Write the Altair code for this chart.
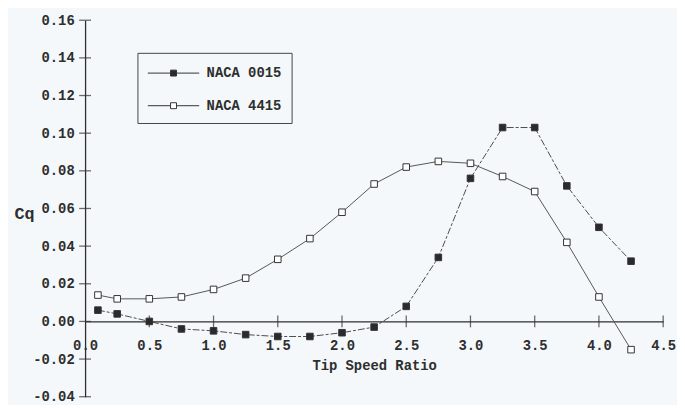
import altair as alt
import pandas as pd

# ---- data ----
tsr = [0.1, 0.25, 0.5, 0.75, 1.0, 1.25, 1.5, 1.75, 2.0, 2.25, 2.5, 2.75,
       3.0, 3.25, 3.5, 3.75, 4.0, 4.25]
cq_0015 = [0.006, 0.004, 0.000, -0.004, -0.005, -0.007, -0.008, -0.008, -0.006,
           -0.003, 0.008, 0.034, 0.076, 0.103, 0.103, 0.072, 0.050, 0.032]
cq_4415 = [0.014, 0.012, 0.012, 0.013, 0.017, 0.023, 0.033, 0.044, 0.058,
           0.073, 0.082, 0.085, 0.084, 0.077, 0.069, 0.042, 0.013, -0.015]
series_names = ["NACA 0015", "NACA 4415"]
x_tick_values = [0.0, 0.5, 1.0, 1.5, 2.0, 2.5, 3.0, 3.5, 4.0, 4.5]
y_tick_values = [-0.04, -0.02, 0.0, 0.02, 0.04, 0.06, 0.08, 0.10, 0.12, 0.14, 0.16]

rows = []
for name, vals in zip(series_names, [cq_0015, cq_4415]):
    for t, v in zip(tsr, vals):
        rows.append({"tsr": t, "cq": v, "series": name})
df = pd.DataFrame(rows)

xt = pd.DataFrame({"tsr": [v for v in x_tick_values if v > 0], "cq": 0.0})
yt = pd.DataFrame({"tsr": 0.0, "cq": y_tick_values})

W, H = 585, 381
FONT = "Liberation Mono"
INK = "#2e2e2e"
FS = 14

xscale = alt.Scale(domain=[0, 4.5], nice=False, zero=False)
yscale = alt.Scale(domain=[-0.04, 0.16], nice=False, zero=False)

x_enc = alt.X(
    "tsr:Q", scale=xscale,
    axis=alt.Axis(values=x_tick_values, tickCount=20, ticks=False, grid=False,
                  offset=-0.2 * H,
                  format=".1f", labelPadding=17, labelFlush=False, labelOverlap=False,
                  title="Tip Speed Ratio", titleY=45, titleBaseline="middle",
                  domainColor=INK, domainWidth=1.3),
)
y_enc = alt.Y(
    "cq:Q", scale=yscale,
    axis=alt.Axis(values=y_tick_values, tickCount=20, ticks=False, grid=False,
                  labelExpr="replace(format(datum.value, '.2f'), '\u2212', '-')",
                  labelPadding=11, labelFlush=False, labelOverlap=False,
                  labelBaseline="middle",
                  title="Cq", titleAngle=0, titleX=-72, titleY=196,
                  titleAlign="left", titleBaseline="middle", titleFontSize=17,
                  domainColor=INK, domainWidth=1.3),
)

base = alt.Chart(df)

line_0015 = base.transform_filter(alt.datum.series == series_names[0]).mark_line(
    color="#4a4a4a", strokeWidth=1, strokeDash=[7, 2, 3, 2]
).encode(x=x_enc, y=y_enc)

line_4415 = base.transform_filter(alt.datum.series == series_names[1]).mark_line(
    color="#555555", strokeWidth=1
).encode(x="tsr:Q", y="cq:Q")

legend_path = "M-1,0H1.3M1.9,0H4.2M1.3,-0.3H1.9V0.3H1.3Z"

points = base.mark_point(shape="square", filled=True, size=44,
                         stroke="#333333", strokeWidth=1, opacity=1).encode(
    x="tsr:Q", y="cq:Q",
    fill=alt.Fill("series:N",
                  scale=alt.Scale(domain=series_names, range=["#2a2a2a", "#ffffff"]),
                  legend=alt.Legend(title=None, orient="none", legendX=53, legendY=33,
                                    symbolType=legend_path, symbolSize=400,
                                    symbolStrokeColor="#333333", symbolStrokeWidth=1,
                                    symbolOpacity=1,
                                    labelOffset=39, rowPadding=15, padding=10,
                                    strokeColor="#444444", fillColor="#f4f8fa",
                                    labelFont=FONT, labelFontSize=FS,
                                    labelFontWeight="bold", labelColor=INK)),
)

yticks = alt.Chart(yt).mark_tick(orient="horizontal", size=12, thickness=1.3,
                                 color=INK).encode(x="tsr:Q", y="cq:Q")
xticks = alt.Chart(xt).mark_tick(orient="vertical", size=12, thickness=1.3,
                                 color=INK).encode(x="tsr:Q", y="cq:Q")

chart = alt.layer(line_0015, line_4415, yticks, xticks, points).properties(
    width=W, height=H,
    autosize=alt.AutoSizeParams(type="none"),
    padding={"left": 78, "top": 10, "right": 14, "bottom": 6},
    background="#f4f8fa",
).configure_view(stroke=None).configure_axis(
    labelFont=FONT, labelFontSize=FS, labelFontWeight="bold", labelColor=INK,
    titleFont=FONT, titleFontSize=FS, titleFontWeight="bold", titleColor=INK,
)

chart.save("out.html", embed_options={"renderer": "svg", "actions": False})
